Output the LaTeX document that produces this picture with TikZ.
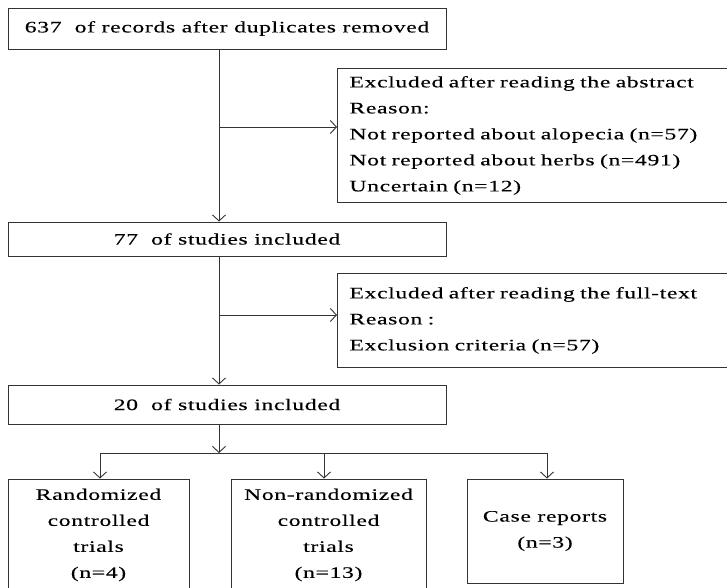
\documentclass[tikz,border=0pt]{standalone}
\usepackage{fontspec}
\setmainfont{Liberation Serif}[FakeStretch=1.48,LetterSpace=4,FakeBold=0.2]
\usetikzlibrary{arrows.meta}

\begin{document}
\begin{tikzpicture}[x=1pt,y=-1pt,line width=0.9pt,
    font=\fontsize{16}{26}\selectfont]
      \useasboundingbox (0,0) rectangle (727,588);
      \clip (0,0) rectangle (727,588);
      \begin{scope}[every node/.style={rectangle,draw=black!80,inner sep=0pt}]
        \node[minimum width=438,minimum height=41] (rec) at (227,28.5) {637\ \ of records after duplicates removed};
        \node[minimum width=438,minimum height=34] (incl1) at (227,239) {77\ \ of studies included};
        \node[minimum width=438,minimum height=39] (incl2) at (227,404.5) {20\ \ of studies included};
        \node[anchor=north west,minimum width=420,minimum height=134,
          align=left,text width=396,inner xsep=12pt] (excl1) at (337,68)
          {Excluded after reading the abstract\\Reason:\\Not reported about alopecia (n=57)\\
           Not reported about herbs (n=491)\\Uncertain (n=12)};
        \node[anchor=north west,minimum width=420,minimum height=94,
          align=left,text width=396,inner xsep=12pt] (excl2) at (337,273)
          {Excluded after reading the full-text\\Reason :\\Exclusion criteria (n=57)};
        \node[minimum width=181,minimum height=112,align=center] (rct) at (98.5,535) {Randomized\\controlled\\trials\\(n=4)};
        \node[minimum width=195,minimum height=112,align=center] (nrct) at (328.5,535) {Non-randomized\\controlled\\trials\\(n=13)};
        \node[minimum width=156,minimum height=104,align=center] (case) at (545,531) {Case reports\\(n=3)};
      \end{scope}
      \coordinate (spine) at (219,0);
      \coordinate (br1) at (219,127);
      \coordinate (br2) at (219,315);
      \coordinate (bar) at (219,453);
      \coordinate (t1) at (100,453);
      \coordinate (t2) at (324,453);
      \coordinate (t3) at (547,453);
      \begin{scope}[>={Straight Barb[length=6pt,width=13pt]},every edge/.style={draw=black!80,line width=0.9pt}]
        \path[->] (rec.south-|spine) edge (incl1.north-|spine);
        \path[->] (br1) edge (br1-|excl1.west);
        \path[->] (incl1.south-|spine) edge (incl2.north-|spine);
        \path[->] (br2) edge (br2-|excl2.west);
        \path[->] (incl2.south-|spine) edge (bar);
        \path (t1) edge (t3);
        \path[->] (t1) edge (t1|-rct.north);
        \path[->] (t2) edge (t2|-nrct.north);
        \path[->] (t3) edge (t3|-case.north);
      \end{scope}
    \end{tikzpicture}
\end{document}
